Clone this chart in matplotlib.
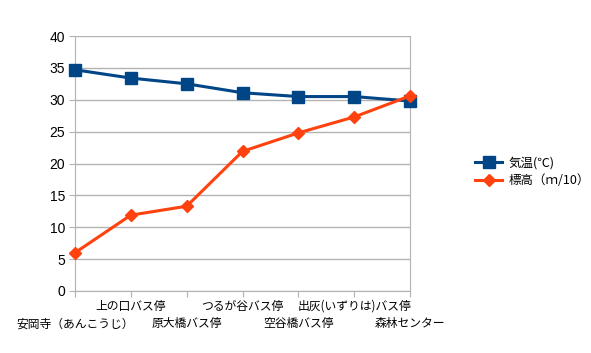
import matplotlib
matplotlib.use("Agg")
import matplotlib.pyplot as plt
import matplotlib.transforms as mtransforms

plt.rcParams['font.family'] = ['Noto Sans CJK JP', 'DejaVu Sans']

# bus stops along the route
stops = ["安岡寺（あんこうじ）", "上の口バス停", "原大橋バス停", "つるが谷バス停",
         "空谷橋バス停", "出灰(いずりは)バス停", "森林センター"]
temperature = [34.7, 33.4, 32.5, 31.1, 30.5, 30.5, 29.8]
elevation = [6.0, 11.9, 13.3, 21.9, 24.8, 27.3, 30.6]

fig = plt.figure(figsize=(5.91, 3.53), dpi=100)
ax = fig.add_axes([75 / 591, 62 / 353, 335 / 591, 255 / 353])

x = list(range(len(stops)))
ax.plot(x, temperature, color="#004586", lw=2.2, marker="s", markersize=9,
        label="気温(℃)", clip_on=False, zorder=3)
ax.plot(x, elevation, color="#ff420e", lw=2.2, marker="D", markersize=6.5,
        label="標高（ｍ/10）", clip_on=False, zorder=4)

ax.set_xlim(0, len(stops) - 1)
ax.set_ylim(0, 40)
ax.set_yticks(range(0, 41, 5))
ax.grid(axis="y", color="#b3b3b3", lw=1)
ax.set_axisbelow(True)

# category labels alternate over two rows
ax.set_xticks(x)
ax.set_xticklabels([])
trans = mtransforms.blended_transform_factory(ax.transData, ax.transAxes)
for i, name in enumerate(stops):
    row_y = -0.035 if i % 2 else -0.103
    ax.text(i, row_y, name, transform=trans, ha="center", va="top", fontsize=8.5)

ax.tick_params(axis="x", length=4, color="#b3b3b3")
ax.tick_params(axis="y", length=4, color="#b3b3b3", labelsize=10, pad=3)
for lab in ax.get_yticklabels():
    lab.set_family("Liberation Sans")

ax.spines["top"].set_visible(False)
for side in ["left", "right", "bottom"]:
    ax.spines[side].set_color("#b3b3b3")

ax.legend(loc="center left", bbox_to_anchor=(1.16, 0.467), frameon=False,
          fontsize=9, handlelength=2.2, handletextpad=0.5, labelspacing=0.35)

fig.savefig("out.png", dpi=100)
